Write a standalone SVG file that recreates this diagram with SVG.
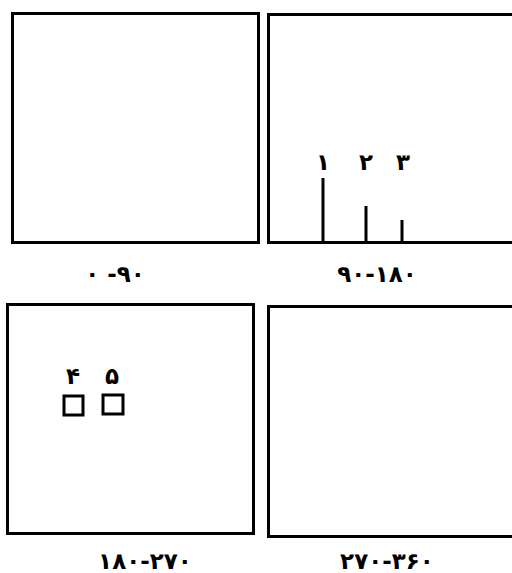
<svg xmlns="http://www.w3.org/2000/svg" width="512" height="573" viewBox="0 0 512 573">
<style>
.box{fill:none;stroke:#000;stroke-width:3}
.bar{stroke:#000;stroke-width:3}
.lbl{font-family:"DejaVu Sans",sans-serif;font-weight:bold;font-size:23px;text-anchor:middle;fill:#000}
.num{font-family:"DejaVu Sans",sans-serif;font-weight:bold;font-size:23px;text-anchor:middle;fill:#000}
</style>
<rect width="512" height="573" fill="#fff"/>
<g id="q1">
<rect class="box" x="12.5" y="13.5" width="246" height="229"/>
<text class="lbl" x="115" y="282" direction="ltr">۰ -۹۰</text>
</g>
<g id="q2">
<rect class="box" x="268.5" y="14.5" width="250" height="228"/>
<text class="lbl" x="377" y="282" direction="ltr">۹۰-۱۸۰</text>
</g>
<g id="q3">
<rect class="box" x="7.5" y="304.5" width="246" height="229"/>
<text class="lbl" x="145" y="569" direction="ltr">۱۸۰-۲۷۰</text>
</g>
<g id="q4">
<rect class="box" x="268.5" y="306.5" width="250" height="230"/>
<text class="lbl" x="387" y="569" direction="ltr">۲۷۰-۳۶۰</text>
</g>
<g id="bars">
<line class="bar" x1="323" y1="178" x2="323" y2="243"/>
<line class="bar" x1="366" y1="206" x2="366" y2="243"/>
<line class="bar" x1="402" y1="220" x2="402" y2="243"/>
<text class="num" x="323" y="170">۱</text>
<text class="num" x="366" y="170">۲</text>
<text class="num" x="403" y="170">۳</text>
</g>
<g id="squares">
<rect class="box" x="64" y="396" width="19" height="19"/>
<rect class="box" x="103" y="395" width="20" height="19"/>
<text class="num" x="73" y="384">۴</text>
<text class="num" x="112" y="384">۵</text>
</g>
</svg>
